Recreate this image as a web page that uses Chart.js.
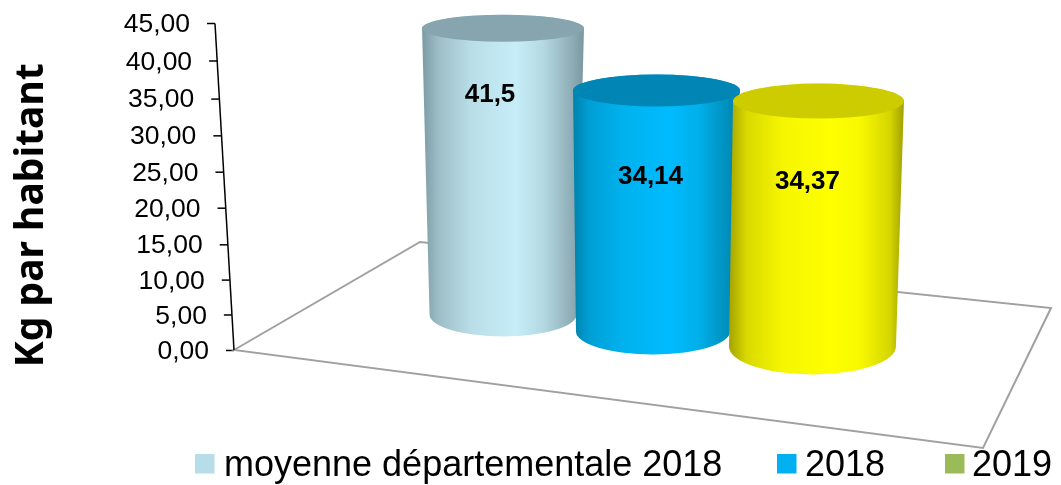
<!DOCTYPE html>
<html>
<head>
<meta charset="utf-8">
<style>html,body{margin:0;padding:0;background:#fff}canvas{display:block}</style>
<script src="https://cdn.jsdelivr.net/npm/chart.js@4/dist/chart.umd.js"></script>
</head>
<body>
<canvas id="c" width="1061" height="485"></canvas>
<script>
// ---- data ----
const categories = [''];
const seriesNames = ['moyenne départementale 2018', '2018', '2019'];
const seriesMoyenne = [41.5];
const series2018 = [34.14];
const series2019 = [34.37];
const valueLabels = ['41,5', '34,14', '34,37'];
const axisTitle = 'Kg par habitant';
const axisMin = 0, axisMax = 45, axisStep = 5;

// ---- styles ----
const legendColors = ['#B7DEE8', '#00B0F0', '#9BBB59'];
const cylStyles = [
  {stops:['#7b9aa3','#9dbdc6','#b9dee8','#c6edf8','#b4d9e3','#8faeb7','#7b98a0'], cap:'#86a5ae',
   topDx:2, baseDx:2, topR:1.045, baseR:.948, baseDy:-35, hK:.952, ryTop:13.5, ryBase:22, labDx:-13, labDy:67},
  {stops:['#0082ab','#009fd6','#00b2ee','#00bbff','#00b0ea','#0090be','#007fa8'], cap:'#0085b5',
   topDx:.5, baseDx:-3, topR:1.077, baseR:.994, baseDy:-18, hK:.975, ryTop:16, ryBase:23, labDx:-6, labDy:86},
  {stops:['#a3a300','#d9d900','#f5f500','#ffff00','#f8f800','#d6d600','#a0a000'], cap:'#cccc00',
   topDx:7.5, baseDx:1.5, topR:1.103, baseR:1.077, baseDy:-3, hK:.986, ryTop:17.5, ryBase:28, labDx:-11, labDy:80.5}
];
const stopAt = [0,.1,.3,.58,.75,.92,1];
const legendLayout = [{x:195,tx:224},{x:777,tx:805},{x:945,tx:972}];

class SlantLinear extends Chart.LinearScale {
  frac(y){ return (this.bottom - y) / (this.bottom - this.top); }
  slant(y){ return -17 - 19 * this.frac(y); }
  bow(y){ const t = this.frac(y); return 15 * t * (1 - t); }
  _calculatePadding(){ this.paddingTop = this.paddingBottom = this.paddingLeft = this.paddingRight = 0; }
  _handleMargins(){}
  getPadding(){ return {left:0, top:0, right:0, bottom:0}; }
  _computeLabelItems(a){
    const items = super._computeLabelItems(a);
    items.forEach(it => {
      const t = it.options.translation;
      it.options.translation = [t[0] + this.slant(t[1]), t[1] + this.bow(t[1]) + 1.5];
    });
    return items;
  }
  _computeGridLineItems(a){
    const items = super._computeGridLineItems(a);
    items.forEach(it => {
      const s = this.slant(it.ty1), b = this.bow(it.ty1);
      it.tx1 += s; it.tx2 += s; it.ty1 += b; it.ty2 += b;
    });
    return items;
  }
  drawTitle(){
    const ctx = this.ctx;
    ctx.save(); ctx.translate(0, 28.5); super.drawTitle(); ctx.restore();
  }
}
SlantLinear.id = 'slant';
SlantLinear.defaults = Chart.LinearScale.defaults;
Chart.register(SlantLinear);

function cylinderTop(st, el){
  const by = el.base + st.baseDy;
  return {by, ty: by - (el.base - el.y) * st.hK};
}

function drawCylinder(ctx, st, el){
  const half = el.width / 2;
  const {by, ty} = cylinderTop(st, el);
  const cxT = el.x + st.topDx, cxB = el.x + st.baseDx;
  const rT = half * st.topR, rB = half * st.baseR;
  const L = Math.min(cxT - rT, cxB - rB), R = Math.max(cxT + rT, cxB + rB);
  const g = ctx.createLinearGradient(L, 0, R, 0);
  st.stops.forEach((c, i) => g.addColorStop(stopAt[i], c));
  ctx.save();
  ctx.beginPath();
  ctx.moveTo(cxT - rT, ty);
  ctx.lineTo(cxB - rB, by);
  ctx.ellipse(cxB, by, rB, st.ryBase, 0, Math.PI, 0, true);
  ctx.lineTo(cxT + rT, ty);
  ctx.ellipse(cxT, ty, rT, st.ryTop, 0, 0, Math.PI, true);
  ctx.closePath();
  ctx.fillStyle = g;
  ctx.fill();
  ctx.beginPath();
  ctx.ellipse(cxT, ty, rT, st.ryTop, 0, 0, Math.PI * 2);
  ctx.fillStyle = st.cap;
  ctx.fill();
  ctx.restore();
}

const scene = {
  id: 'scene',
  beforeDatasetsDraw(chart){
    const {ctx, scales:{y}} = chart;
    const x0 = y.right + y.slant(y.bottom), y0 = y.getPixelForValue(0);
    ctx.save();
    ctx.strokeStyle = '#a0a0a0'; ctx.lineWidth = 2; ctx.lineJoin = 'miter';
    ctx.beginPath();
    ctx.moveTo(x0, y0);
    ctx.lineTo(x0 + 186, y0 - 108);
    ctx.lineTo(x0 + 817, y0 - 42);
    ctx.lineTo(x0 + 749, y0 + 98);
    ctx.closePath();
    ctx.stroke();
    ctx.strokeStyle = '#000'; ctx.lineWidth = 1.5;
    ctx.beginPath();
    ctx.moveTo(y.right + y.slant(y.top), y.top);
    ctx.lineTo(x0, y0);
    ctx.stroke();
    ctx.restore();
  },
  beforeDatasetDraw(){ return false; },
  afterDatasetsDraw(chart){
    const {ctx} = chart;
    chart.data.datasets.forEach((ds, i) => {
      drawCylinder(ctx, cylStyles[i], chart.getDatasetMeta(i).data[0]);
    });
    ctx.save();
    ctx.font = 'bold 26px "Liberation Sans"';
    ctx.fillStyle = '#000'; ctx.textAlign = 'center'; ctx.textBaseline = 'middle';
    chart.data.datasets.forEach((ds, i) => {
      const st = cylStyles[i], el = chart.getDatasetMeta(i).data[0];
      ctx.fillText(valueLabels[i], el.x + st.topDx + st.labDx, cylinderTop(st, el).ty + st.labDy);
    });
    ctx.font = '36px "Liberation Sans"';
    ctx.textAlign = 'left'; ctx.textBaseline = 'alphabetic';
    chart.data.datasets.forEach((ds, i) => {
      const p = legendLayout[i];
      ctx.fillStyle = ds.backgroundColor;
      ctx.fillRect(p.x, 454, 19.5, 19.5);
      ctx.fillStyle = '#000';
      ctx.fillText(ds.label, p.tx, 476);
    });
    ctx.restore();
  }
};

new Chart(document.getElementById('c'), {
  type: 'bar',
  data: {
    labels: categories,
    datasets: [
      {label: seriesNames[0], data: seriesMoyenne, backgroundColor: legendColors[0]},
      {label: seriesNames[1], data: series2018, backgroundColor: legendColors[1]},
      {label: seriesNames[2], data: series2019, backgroundColor: legendColors[2]}
    ]
  },
  options: {
    responsive: false,
    animation: false,
    layout: {autoPadding: false, padding: {top: 23.5, bottom: 135, left: 0, right: 0}},
    datasets: {bar: {barPercentage: 1, categoryPercentage: .574}},
    plugins: {legend: {display: false}, tooltip: {enabled: false}},
    scales: {
      x: {display: false},
      y: {
        type: 'slant', min: axisMin, max: axisMax,
        afterFit(s){ s.width = 251; },
        border: {display: false},
        grid: {drawOnChartArea: false, drawTicks: true, tickLength: 8, tickColor: '#000', tickWidth: 1.5},
        ticks: {
          stepSize: axisStep, padding: 17, color: '#000', autoSkip: false,
          font: {family: '"Liberation Sans"', size: 26.5},
          callback: v => v.toFixed(2).replace('.', ',')
        },
        title: {
          display: true, text: axisTitle, color: '#000',
          font: {family: '"Noto Sans"', size: 39, weight: 'bold'},
          padding: {top: 8, bottom: 0}
        }
      }
    }
  },
  plugins: [scene]
});
</script>
</body>
</html>
